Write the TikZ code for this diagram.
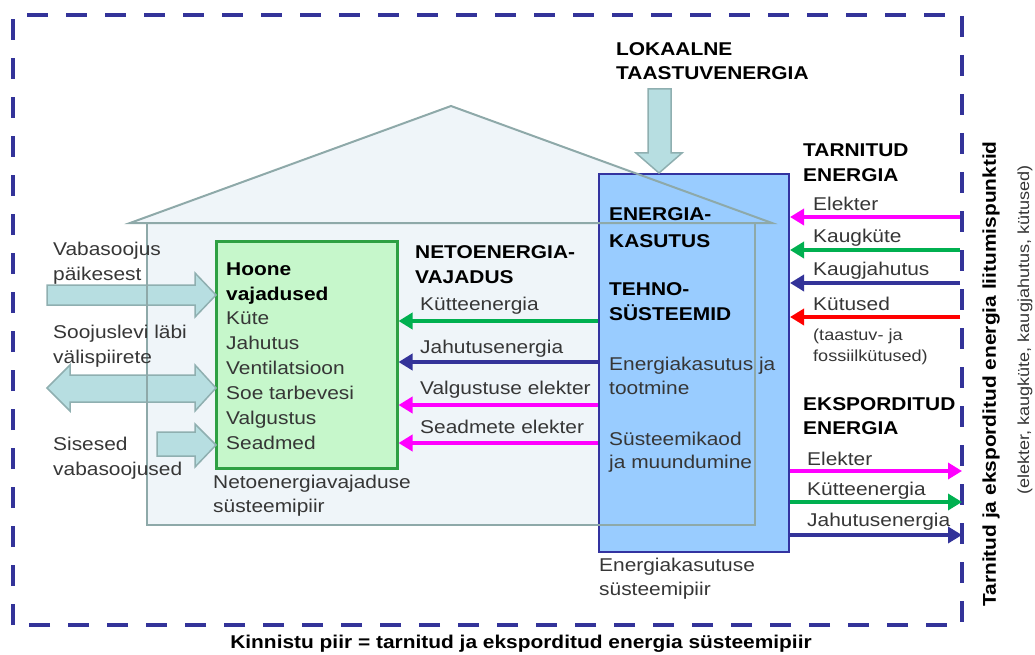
\documentclass[tikz,border=0pt]{standalone}
\usepackage{fontspec}
\setmainfont{Liberation Sans}[FakeStretch=1.13]
\usetikzlibrary{arrows.meta}
\definecolor{dashblue}{HTML}{333399}
\definecolor{housefill}{HTML}{EFF5F9}
\definecolor{housestroke}{HTML}{8EA9A9}
\definecolor{greenfill}{HTML}{C6F7CB}
\definecolor{greenstroke}{HTML}{2EA043}
\definecolor{bluefill}{HTML}{99CCFF}
\definecolor{bluestroke}{HTML}{3333A0}
\definecolor{arrfill}{HTML}{B7DEE1}
\definecolor{arrstroke}{HTML}{8FAFB0}
\definecolor{lmag}{HTML}{FF00FF}
\definecolor{lgreen}{HTML}{00B050}
\definecolor{lblue}{HTML}{333399}
\definecolor{lred}{HTML}{FF0000}
\definecolor{txtgray}{HTML}{363636}
\begin{document}
\begin{tikzpicture}[x=1pt,y=-1pt,
  txt/.style={anchor=base west, inner sep=0pt, text=txtgray, font=\fontsize{18.5}{25}\selectfont},
  hd/.style={anchor=base west, inner sep=0pt, text=black, font=\fontsize{18.5}{25}\selectfont\bfseries},
  smalltxt/.style={anchor=base west, inner sep=0pt, text=txtgray, font=\fontsize{16}{20}\selectfont},
  blockarrow/.style={fill=arrfill, draw=arrstroke, line width=1.5pt, line join=miter},
  fl/.style={line width=3.5pt, -{Triangle[length=14pt,width=16pt]}},
  ebox/.style={draw=bluestroke, fill=bluefill, line width=2pt, inner sep=0pt},
  gbox/.style={draw=greenstroke, fill=greenfill, line width=2.5pt, inner sep=0pt},
  housel/.style={draw=housestroke, line width=2pt, line join=miter}
]
\useasboundingbox (0,0) rectangle (1035,655);

% house fill
\fill[housefill] (130,223) -- (451,106) -- (772,223) -- cycle;
\fill[housefill] (147,223) rectangle (755,525);

% boxes
\node[ebox, minimum width=190pt, minimum height=378pt, anchor=north west] (eb) at (598,173) {};
\node[gbox, minimum width=181pt, minimum height=227pt, anchor=north west] (gb) at (215,240) {};

% block arrows
\draw[blockarrow] (648,89) -- (671,89) -- (671,153) -- (682,153) -- (659,173) -- (636,153) -- (648,153) -- cycle;
\draw[blockarrow] (47,285) -- (195,285) -- (195,273) -- (216,295) -- (195,317) -- (195,305) -- (47,305) -- cycle;
\draw[blockarrow] (47,388) -- (70,365) -- (70,375) -- (195,375) -- (195,365) -- (216,388) -- (195,411) -- (195,402) -- (70,402) -- (70,411) -- cycle;
\draw[blockarrow] (157,432) -- (195,432) -- (195,424) -- (216,445) -- (195,467) -- (195,456) -- (157,456) -- cycle;

% house outline
\draw[housel] (130,223) -- (451,106) -- (772,223) -- cycle;
\draw[housel] (147,223) rectangle (755,525);

% outer dashed border
\draw[dashblue, line width=4pt, dash pattern=on 21pt off 18pt] (13,625) rectangle (962,15);

% incoming supplied energy
\coordinate (inE) at (960,217);
\coordinate (inK) at (960,250);
\coordinate (inJ) at (960,283);
\coordinate (inF) at (960,317);
\draw[fl, lmag] (inE) -- (eb.east |- inE);
\draw[fl, lgreen] (inK) -- (eb.east |- inK);
\draw[fl, lblue] (inJ) -- (eb.east |- inJ);
\draw[fl, lred] (inF) -- (eb.east |- inF);

% net energy needs
\coordinate (yK) at (0,321);
\coordinate (yJ) at (0,362);
\coordinate (yV) at (0,405);
\coordinate (yS) at (0,443);
\draw[fl, lgreen] (eb.west |- yK) -- (gb.east |- yK);
\draw[fl, lblue] (eb.west |- yJ) -- (gb.east |- yJ);
\draw[fl, lmag] (eb.west |- yV) -- (gb.east |- yV);
\draw[fl, lmag] (eb.west |- yS) -- (gb.east |- yS);

% exported energy
\coordinate (outE) at (962,471);
\coordinate (outK) at (962,502);
\coordinate (outJ) at (962,535);
\draw[fl, lmag] (eb.east |- outE) -- (outE);
\draw[fl, lgreen] (eb.east |- outK) -- (outK);
\draw[fl, lblue] (eb.east |- outJ) -- (outJ);

% left labels
\node[txt] (l1) at (53,255) {Vabasoojus};
\node[txt] (l2) at (53,280) {päikesest};
\node[txt] (l3) at (53,338) {Soojuslevi läbi};
\node[txt] (l4) at (53,363) {välispiirete};
\node[txt] (l5) at (53,450) {Sisesed};
\node[txt] (l6) at (53,475) {vabasoojused};

% green box text
\node[hd] (g1) at (226,275) {Hoone};
\node[hd] (g2) at (226,300) {vajadused};
\node[txt] (g3) at (226,324) {Küte};
\node[txt] (g4) at (226,349) {Jahutus};
\node[txt] (g5) at (226,374) {Ventilatsioon};
\node[txt] (g6) at (226,399) {Soe tarbevesi};
\node[txt] (g7) at (226,424) {Valgustus};
\node[txt] (g8) at (226,449) {Seadmed};
\node[txt] (g9) at (213,488) {Netoenergiavajaduse};
\node[txt] (g10) at (213,512) {süsteemipiir};

% net need labels
\node[hd] (n1) at (415,258) {NETOENERGIA-};
\node[hd] (n2) at (415,283) {VAJADUS};
\node[txt] (n3) at (420,310) {Kütteenergia};
\node[txt] (n4) at (420,353) {Jahutusenergia};
\node[txt] (n5) at (420,394) {Valgustuse elekter};
\node[txt] (n6) at (420,433) {Seadmete elekter};

% local renewable
\node[hd] (r1) at (616,56) {LOKAALNE};
\node[hd] (r2) at (616,80) {TAASTUVENERGIA};

% blue box text
\node[hd] (b1) at (609,220) {ENERGIA-};
\node[hd] (b2) at (609,247) {KASUTUS};
\node[hd] (b3) at (609,295) {TEHNO-};
\node[hd] (b4) at (609,320) {SÜSTEEMID};
\node[txt] (b5) at (609,370) {Energiakasutus ja};
\node[txt] (b6) at (609,394) {tootmine};
\node[txt] (b7) at (609,445) {Süsteemikaod};
\node[txt] (b8) at (609,468) {ja muundumine};
\node[txt] (b9) at (599,571) {Energiakasutuse};
\node[txt] (b10) at (599,595) {süsteemipiir};

% supplied labels
\node[hd] (s1) at (803,157) {TARNITUD};
\node[hd] (s2) at (803,182) {ENERGIA};
\node[txt] (s3) at (813,210) {Elekter};
\node[txt] (s4) at (813,242) {Kaugküte};
\node[txt] (s5) at (813,275) {Kaugjahutus};
\node[txt] (s6) at (813,310) {Kütused};
\node[smalltxt] (s7) at (813,340) {(taastuv- ja};
\node[smalltxt] (s8) at (813,361) {fossiilkütused)};

% exported labels
\node[hd] (e1) at (803,410) {EKSPORDITUD};
\node[hd] (e2) at (803,434) {ENERGIA};
\node[txt] (e3) at (807,465) {Elekter};
\node[txt] (e4) at (807,495) {Kütteenergia};
\node[txt] (e5) at (807,526) {Jahutusenergia};

% bottom and side titles
\node[hd, anchor=base] (bt) at (521,648) {Kinnistu piir = tarnitud ja eksporditud energia süsteemipiir};
\node[hd, anchor=center, rotate=90] (vt1) at (991,374) {Tarnitud ja eksporditud energia liitumispunktid};
\node[smalltxt, anchor=center, rotate=90] (vt2) at (1025,330) {(elekter, kaugküte, kaugjahutus, kütused)};
\end{tikzpicture}
\end{document}
